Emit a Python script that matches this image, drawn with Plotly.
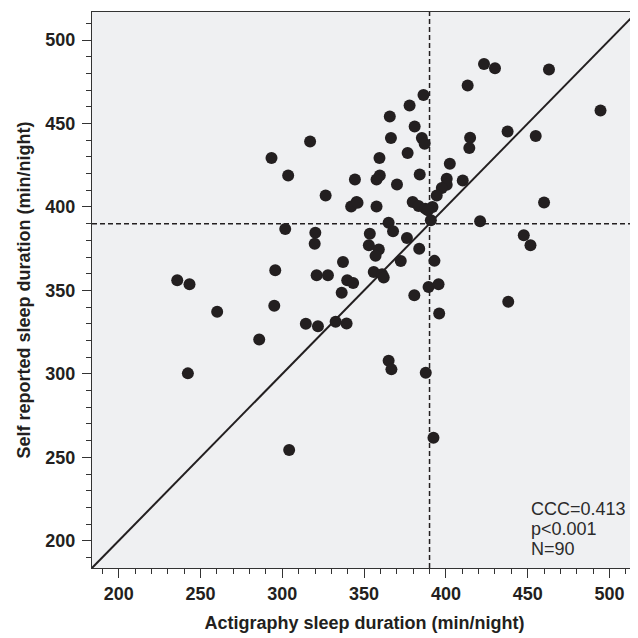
import plotly.graph_objects as go

# Data (minutes/night)
actigraphy = [
    293.4, 303.6, 301.8, 365.7, 366.4, 317.0, 359.4, 344.4, 359.6, 357.6,
    326.5, 345.4, 342.1, 357.6, 320.2, 319.8, 365.0, 367.7, 353.5, 352.9,
    359.0, 357.0, 337.1, 423.3, 430.0, 413.3, 386.3, 377.8, 380.9, 385.3,
    387.0, 414.8, 414.3, 437.7, 376.6, 402.4, 400.5, 400.5, 397.5, 394.4,
    410.3, 370.1, 379.7, 383.3, 387.4, 391.8, 390.8, 420.9, 376.2, 383.7,
    372.4, 393.0, 463.0, 494.5, 454.9, 460.0, 447.6, 451.7, 235.8, 243.3,
    295.7, 295.1, 260.2, 285.9, 242.3, 321.0, 327.9, 339.7, 343.3, 355.9,
    361.0, 362.0, 336.3, 314.4, 321.8, 332.6, 339.3, 365.0, 366.7, 304.2,
    389.4, 395.5, 380.7, 395.9, 438.1, 387.7, 392.4, 384.0, 389.0, 346.0,
]
self_report = [
    429.3, 418.9, 386.8, 454.2, 441.3, 439.2, 429.3, 416.5, 418.9, 416.5,
    406.9, 403.0, 400.3, 400.3, 384.6, 378.0, 390.6, 385.4, 384.0, 377.0,
    374.5, 370.7, 367.0, 485.7, 483.1, 472.7, 467.1, 460.8, 448.2, 441.3,
    437.8, 441.4, 435.3, 445.2, 432.3, 425.9, 416.9, 413.3, 411.3, 406.9,
    415.9, 413.5, 403.0, 400.6, 399.0, 400.0, 392.0, 391.4, 381.4, 375.0,
    367.6, 367.7, 482.3, 457.8, 442.5, 402.7, 383.0, 377.0, 356.1, 353.7,
    362.1, 340.8, 337.2, 320.6, 300.3, 359.1, 359.1, 356.1, 354.5, 361.1,
    359.7, 357.7, 348.6, 330.0, 328.6, 331.2, 330.2, 307.9, 302.7, 254.4,
    352.1, 353.7, 347.1, 336.2, 343.2, 300.7, 261.8, 419.5, 398.0, 402.5,
]
axis_range = [183.7, 516.8]
cutoff = 390
tick_vals = [200, 250, 300, 350, 400, 450, 500]
stats_text = ["CCC=0.413", "p<0.001", "N=90"]
stats_y = [0.106, 0.070, 0.034]

INK = "#231f20"
FONT = "Liberation Sans, Arial, sans-serif"

fig = go.Figure()

# identity line
fig.add_trace(go.Scatter(
    x=axis_range, y=axis_range, mode="lines",
    line=dict(color=INK, width=2), hoverinfo="skip", showlegend=False,
))

# cutoff lines
fig.add_trace(go.Scatter(
    x=[cutoff, cutoff], y=axis_range, mode="lines",
    line=dict(color=INK, width=1.5, dash="5px,3px"), hoverinfo="skip", showlegend=False,
))
fig.add_trace(go.Scatter(
    x=axis_range, y=[cutoff, cutoff], mode="lines",
    line=dict(color=INK, width=1.5, dash="5px,3px"), hoverinfo="skip", showlegend=False,
))

# points
fig.add_trace(go.Scatter(
    x=actigraphy, y=self_report, mode="markers",
    marker=dict(color=INK, size=12, line=dict(width=0)), showlegend=False,
))

axis_common = dict(
    range=axis_range,
    tickvals=tick_vals,
    ticks="outside",
    ticklen=9,
    tickwidth=1,
    tickcolor="#333333",
    showgrid=False,
    zeroline=False,
    showline=True,
    linecolor="#333333",
    linewidth=1,
    mirror=True,
    automargin=False,
    tickfont=dict(family=FONT, size=18, color=INK, weight="bold"),
    minor=dict(dtick=10, tick0=0, ticks="outside", ticklen=5, tickcolor="#333333", showgrid=False),
)

fig.update_xaxes(
    **axis_common,
    title=dict(text="Actigraphy sleep duration (min/night)",
               font=dict(family=FONT, size=18, color=INK, weight="bold"),
               standoff=13),
)
fig.update_yaxes(
    **axis_common,
    ticklabelstandoff=3,
    title=dict(text="Self reported sleep duration (min/night)",
               font=dict(family=FONT, size=18, color=INK, weight="bold"),
               standoff=10),
)

for txt, yy in zip(stats_text, stats_y):
    fig.add_annotation(
        xref="paper", yref="paper", x=0.802, y=yy,
        xanchor="left", yanchor="middle", align="left",
        text=txt, showarrow=False,
        font=dict(family=FONT, size=18, color="#2b2b2b"),
    )

fig.update_layout(
    width=630, height=630,
    margin=dict(l=84, r=1, t=4, b=70),
    plot_bgcolor="#eff0f2",
    paper_bgcolor="white",
)

fig.write_html("out.html")
